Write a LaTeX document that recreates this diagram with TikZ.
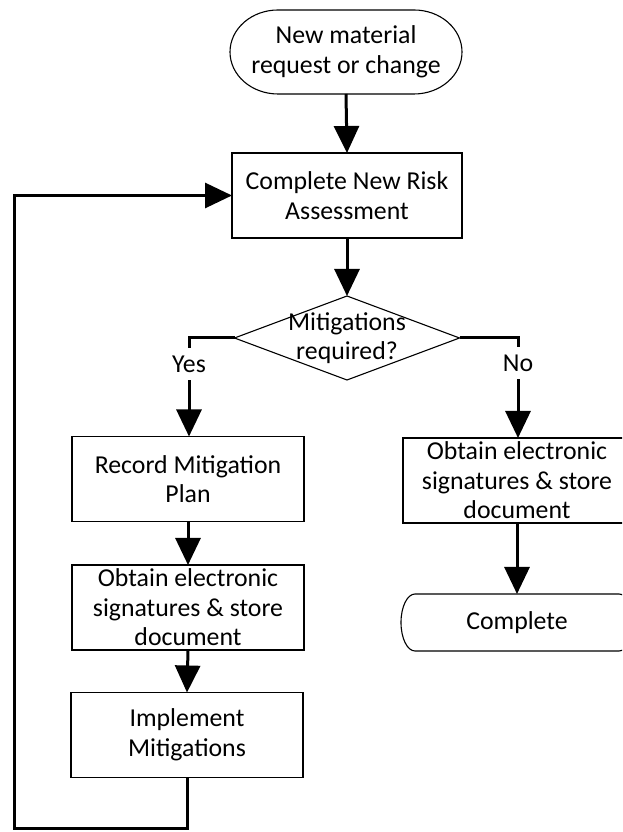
\documentclass[tikz,border=0pt]{standalone}
\usepackage{fontspec}
\setmainfont{Carlito}
\usetikzlibrary{arrows.meta,shapes.geometric}

% outline of a terminal: straight top and bottom, elliptical ends
% #1 node name, #2 horizontal bulge of the ends, #3 half height
\newcommand\drawterm[3]{%
  \draw[boxline] ([xshift=#2]#1.north west) -- ([xshift=-#2]#1.north east)
    arc[start angle=90,end angle=-90,x radius=#2,y radius=#3]
    -- ([xshift=#2]#1.south west)
    arc[start angle=270,end angle=90,x radius=#2,y radius=#3] -- cycle;}

\begin{document}
\begin{tikzpicture}[x=1pt,y=1pt,
  boxline/.style={line width=1.1pt,black},
  txt/.style={font=\fontsize{25.8}{29.5}\selectfont,align=center,text=black},
  procbox/.style={txt,rectangle,draw,boxline,inner sep=0pt,outer sep=0pt,
     minimum width=#1,minimum height=85pt},
  procbox/.default=232pt,
  termbox/.style={txt,rectangle,inner sep=0pt,outer sep=0pt},
  flow/.style={line width=3pt,black,
     -{Triangle[width=25pt,length=27pt]}},
  plain/.style={line width=3pt,black},
  branch/.style={txt,inner sep=2pt,outer sep=6pt}
]
\path[use as bounding box,clip] (0,0) rectangle (622,832);
\fill[white] (0,0) rectangle (622,832);

% main column
\node[termbox,minimum width=232pt,minimum height=84pt] (start) at (346,780)
  {New material\\request or change};
\drawterm{start}{48pt}{42pt}

\node[procbox=230pt] (assess) at (347,636.5) {Complete New Risk\\Assessment};

\node[diamond,draw,boxline,minimum width=225pt,minimum height=84pt,
  inner sep=0pt,outer sep=0pt,aspect=2.68,
  label={[txt]center:Mitigations\\required?}] (dec) at (347,494) {};

\node[branch] (yes) at (189,468) {Yes};
\node[branch] (no) at (518,469) {No};

% "Yes" column
\node[procbox] (rec) at (188,353) {Record Mitigation\\Plan};
\node[procbox] (obl) at (188,224.5) {Obtain electronic\\signatures \& store\\document};
\node[procbox] (impl) at (187,97) {Implement\\Mitigations};

% "No" column
\node[procbox=228pt] (obr) at (517,351.5) {Obtain electronic\\signatures \& store\\document};
\node[termbox,minimum width=232pt,minimum height=57pt] (done) at (517,209.5) {Complete};
\drawterm{done}{14pt}{28.5pt}

% connectors
\draw[flow] (start.south) -- (assess.north);
\draw[flow] (assess.south) -- (dec.north);
\draw[plain] (dec.west) -| (yes.north);
\draw[flow] (yes.south) -- (rec.north -| yes.south);
\draw[plain] (dec.east) -| (no.north);
\draw[flow] (no.south) -- (obr.north -| no.south);
\draw[flow] (rec.south) -- (obl.north);
\draw[flow] (obl.south) -- (impl.north);
\draw[flow] (obr.south) -- (done.north);

% loop back to the risk assessment
\coordinate (lb) at (14,3);
\draw[flow,line join=miter] (impl.south) |- (lb) |- (assess.west);
\end{tikzpicture}
\end{document}
